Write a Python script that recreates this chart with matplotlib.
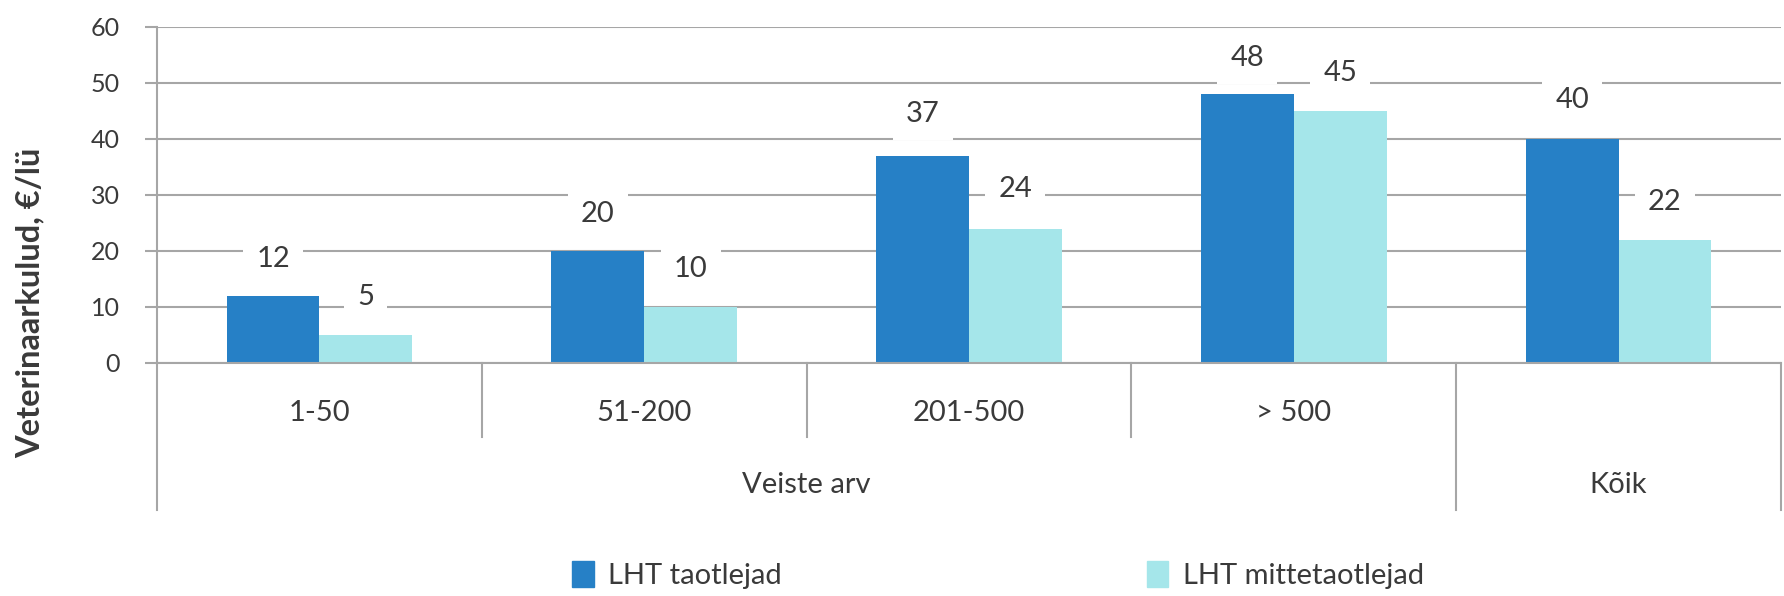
import numpy as np
import matplotlib
matplotlib.use("Agg")
import matplotlib.pyplot as plt
import matplotlib.transforms as mtransforms
from matplotlib.patches import Patch

# andmed
kategooriad = ["1-50", "51-200", "201-500", "> 500", ""]
taotlejad = [12, 20, 37, 48, 40]
mittetaotlejad = [5, 10, 24, 45, 22]
seeria_nimed = ["LHT taotlejad", "LHT mittetaotlejad"]
grupid = ["Veiste arv", "Kõik"]

# siltide kõrgus (käsitsi paigutatud nagu Excelis)
silt_y_taotl = [18.6, 26.6, 44.4, 54.5, 47.0]
silt_y_mitte = [11.8, 16.8, 31.0, 51.8, 28.7]

plt.rcParams['font.family'] = ['Lato', 'DejaVu Sans']
tume = '#2680C6'
hele = '#A5E6EA'
hall = '#A6A6A6'
tekst = '#3A3A3A'

W, H = 1784, 596
fig = plt.figure(figsize=(W / 100, H / 100), dpi=100)
ax = fig.add_axes([157 / W, 1 - 363 / H, (1781 - 157) / W, (363 - 27) / H])

x = np.arange(len(kategooriad))
bw = 0.2857
ax.bar(x - bw / 2, taotlejad, bw, color=tume, zorder=2)
ax.bar(x + bw / 2, mittetaotlejad, bw, color=hele, zorder=2)

ax.set_xlim(-0.5, len(kategooriad) - 0.5)
ax.set_ylim(0, 60)
ax.set_yticks(np.arange(0, 61, 10))
ax.set_xticks([])
ax.yaxis.grid(True, color=hall, lw=1.5, zorder=0)
ax.set_axisbelow(True)
for s in ['top', 'right']:
    ax.spines[s].set_visible(False)
for s in ['left', 'bottom']:
    ax.spines[s].set_color(hall)
    ax.spines[s].set_linewidth(1.5)
ax.tick_params(axis='y', direction='out', length=9, width=1.5, color=hall,
               pad=18, labelsize=18, labelcolor=tekst)

# väärtuste sildid
bbox = dict(boxstyle='square,pad=0.45', fc='white', ec='none')
for i in range(len(kategooriad)):
    ax.text(x[i] - bw / 2, silt_y_taotl[i], str(taotlejad[i]), ha='center', va='center',
            fontsize=21, color=tekst, bbox=bbox, zorder=3)
    ax.text(x[i] + bw / 2, silt_y_mitte[i], str(mittetaotlejad[i]), ha='center', va='center',
            fontsize=21, color=tekst, bbox=bbox, zorder=3)

# kategooriate telg
tr = mtransforms.blended_transform_factory(ax.transData, ax.transAxes)
for b in np.arange(-0.5, len(kategooriad), 1.0):
    alumine = -0.4375 if b in (-0.5, 3.5, 4.5) else -0.22
    ax.plot([b, b], [0, alumine], color=hall, lw=1.5, transform=tr, clip_on=False)
for i, k in enumerate(kategooriad):
    ax.text(x[i], -0.149, k, transform=tr, ha='center', va='center', fontsize=21, color=tekst)
ax.text(1.5, -0.363, grupid[0], transform=tr, ha='center', va='center', fontsize=21, color=tekst)
ax.text(4, -0.363, grupid[1], transform=tr, ha='center', va='center', fontsize=21, color=tekst)

fig.text(30 / W, 1 - 303 / H, "Veterinaarkulud, €/lü", rotation=90, ha='center', va='center',
         fontsize=23.5, fontweight='bold', color=tekst)

handles = [Patch(color=tume), Patch(color=hele)]
fig.legend(handles, seeria_nimed, ncol=2, loc='center', bbox_to_anchor=(998 / W, 1 - 575 / H),
           frameon=False, fontsize=21, handlelength=0.75, handleheight=1.0,
           handletextpad=0.5, columnspacing=12.5, labelcolor=tekst)

fig.savefig("out.png", dpi=100)
